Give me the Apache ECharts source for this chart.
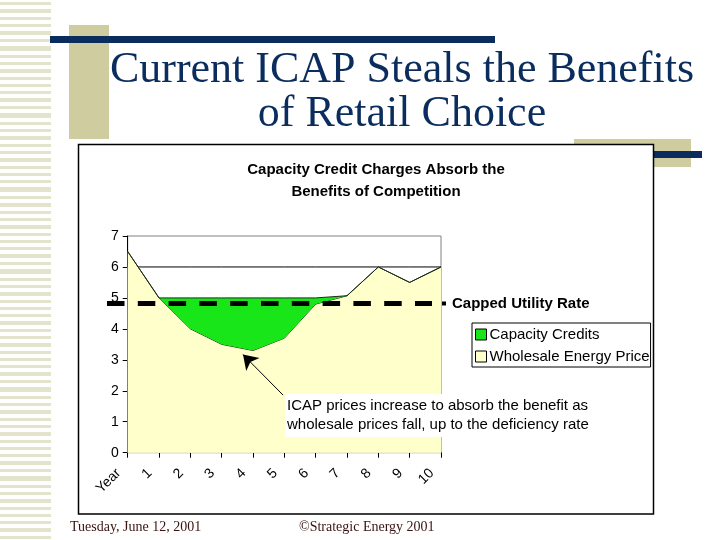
<!DOCTYPE html>
<html>
<head>
<meta charset="utf-8">
<script src="https://cdn.jsdelivr.net/npm/echarts@6/dist/echarts.min.js"></script>
<style>html,body{margin:0;padding:0;background:#fff;}#c{width:720px;height:540px;}</style>
</head>
<body>
<div id="c"></div>
<script>
// ---- data ----
var xLabels = ['Year','1','2','3','4','5','6','7','8','9','10'];
var wholesale = [6.5, 5.0, 4.0, 3.5, 3.3, 3.7, 4.8, 5.07, 6.0, 5.5, 6.0];
var capacity  = [0, 0, 1.0, 1.5, 1.7, 1.3, 0.2, 0, 0, 0, 0];
var deficiency = [6, 6, 6, 6, 6, 6, 6, 6, 6, 6, 6];
var cappedRate = 4.82;
var yTicks = [0, 7, 1];
// annotation arrow, in (year index, value) units
var arrowFrom = [4.96, 1.86];
var arrowTo = [3.68, 3.17];

var SANS = '"Liberation Sans", Arial, sans-serif';
var SERIF = '"Liberation Serif", "Times New Roman", serif';
var GREEN = '#19e619';
var YELLOW = '#ffffcc';
var TAN = '#cfcca0';
var NAVY = '#0a2d5e';

var graphics = [];
// left stripe column
var stripeRows = [3,4,3,3,4,3,5,3,3,4,3,3,3,4,3,5,3,3,4,3,3,4,3,3,3,5,3,4,3,3,4,3,3,3,4,3,5,3,3,4,3,3,3,4,3,3,4,3,3,3,4,3,5,3,3,4,3,3,4,3,3,3,4,3,5,3,3,4,3,3,3,4,3,3,4,3];
var yy = 2;
for (var i = 0; i < stripeRows.length && yy < 540; i++) {
  graphics.push({type:'rect', z:-5, shape:{x:0, y:yy, width:51, height:stripeRows[i]}, style:{fill:'#e4e3cc'}});
  yy += stripeRows[i] + 4;
}
// left tan bar and navy bar
graphics.push({type:'rect', z:-5, shape:{x:69, y:25, width:40, height:114}, style:{fill:TAN}});
graphics.push({type:'rect', z:-4, shape:{x:50, y:36, width:445, height:7}, style:{fill:NAVY}});
// right tan box and navy bar
graphics.push({type:'rect', z:-5, shape:{x:574, y:139, width:117, height:28}, style:{fill:TAN}});
graphics.push({type:'rect', z:-4, shape:{x:620, y:151, width:82, height:7}, style:{fill:NAVY}});
// chart frame
graphics.push({type:'rect', z:-3, shape:{x:78.5, y:144.5, width:575, height:369.5}, style:{fill:'#fff', stroke:'#000', lineWidth:1.5}});
// slide title
graphics.push({type:'text', z:-2, x:402, y:70, style:{text:'Current ICAP Steals the Benefits', font:'44px ' + SERIF, fill:NAVY, textAlign:'center', textVerticalAlign:'middle'}});
graphics.push({type:'text', z:-2, x:402, y:114, style:{text:'of Retail Choice', font:'44px ' + SERIF, fill:NAVY, textAlign:'center', textVerticalAlign:'middle'}});
// footer
graphics.push({type:'text', z:-2, x:70, y:527, style:{text:'Tuesday, June 12, 2001', font:'14px ' + SERIF, fill:'#3a1212', textAlign:'left', textVerticalAlign:'middle'}});
graphics.push({type:'text', z:-2, x:299, y:527, style:{text:'\u00A9Strategic Energy 2001', font:'14px ' + SERIF, fill:'#3a1212', textAlign:'left', textVerticalAlign:'middle'}});
// annotation
graphics.push({type:'text', z:50, x:285, y:394, style:{text:'ICAP prices increase to absorb the benefit as\nwholesale prices fall, up to the deficiency rate', font:'15px ' + SANS, fill:'#000', backgroundColor:'#fff', padding:[2,3,3,2], lineHeight:19, textAlign:'left', textVerticalAlign:'top'}});

var option = {
  animation: false,
  backgroundColor: '#fff',
  title: {
    text: 'Capacity Credit Charges Absorb the\nBenefits of Competition',
    left: 371, top: 154, textAlign: 'center',
    textStyle: {fontFamily: SANS, fontWeight: 'bold', fontSize: 15, color: '#000', lineHeight: 22}
  },
  graphic: graphics,
  legend: {
    orient: 'vertical', left: 472, top: 323,
    backgroundColor: '#fff', borderColor: '#000', borderWidth: 1,
    padding: [4, 1, 3, 3], itemGap: 7, itemWidth: 11, itemHeight: 11,
    icon: 'rect',
    textStyle: {fontFamily: SANS, fontSize: 15, color: '#000', padding: [0,0,0,-2]},
    data: [
      {name: 'Capacity Credits', itemStyle: {color: GREEN, borderColor: '#000', borderWidth: 1}},
      {name: 'Wholesale Energy Price', itemStyle: {color: YELLOW, borderColor: '#000', borderWidth: 1}}
    ],
    z: 20
  },
  grid: [
    {left: 127.7, right: 279, top: 236, bottom: 87.3, show: true, borderColor: '#808080', borderWidth: 1, backgroundColor: 'transparent'},
    {left: 107, right: 288, top: 236, bottom: 87.3, show: false},
    {left: 127.7, right: 279, top: 236, bottom: 87.3, show: false}
  ],
  xAxis: [
    {type: 'category', gridIndex: 0, data: xLabels, boundaryGap: false,
     axisLine: {show: true, lineStyle: {color: '#000', width: 1}},
     axisTick: {show: true, length: 5, interval: 0, lineStyle: {color: '#000'}},
     splitLine: {show: false},
     axisLabel: {rotate: 45, margin: 9, interval: 0, padding: [0, 13, 0, 0], fontFamily: SANS, fontSize: 14, color: '#000'}},
    {type: 'value', gridIndex: 1, min: 0, max: 1, show: false},
    {type: 'value', gridIndex: 2, min: 0, max: xLabels.length - 1, show: false}
  ],
  yAxis: [
    {type: 'value', gridIndex: 0, min: yTicks[0], max: yTicks[1], interval: yTicks[2],
     axisLine: {show: true, lineStyle: {color: '#000', width: 1}},
     axisTick: {show: true, length: 5, lineStyle: {color: '#000'}},
     splitLine: {show: false},
     axisLabel: {margin: 9, fontFamily: SANS, fontSize: 14, color: '#000'}},
    {type: 'value', gridIndex: 1, min: yTicks[0], max: yTicks[1], show: false},
    {type: 'value', gridIndex: 2, min: yTicks[0], max: yTicks[1], show: false}
  ],
  series: [
    {name: 'Deficiency Rate', type: 'line', xAxisIndex: 0, yAxisIndex: 0, data: deficiency,
     symbol: 'none', lineStyle: {color: '#000', width: 1}, areaStyle: {color: '#fff', opacity: 1}, z: 3},
    {name: 'Wholesale Energy Price', type: 'line', stack: 'p', xAxisIndex: 0, yAxisIndex: 0, data: wholesale,
     symbol: 'none', itemStyle: {color: YELLOW}, lineStyle: {color: '#1c3a1c', width: 1}, areaStyle: {color: YELLOW, opacity: 1}, z: 4},
    {name: 'Capacity Credits', type: 'line', stack: 'p', xAxisIndex: 0, yAxisIndex: 0, data: capacity,
     symbol: 'none', itemStyle: {color: GREEN}, lineStyle: {color: '#1c2a1c', width: 1}, areaStyle: {color: GREEN, opacity: 1}, z: 5},
    {name: 'Capped Utility Rate', type: 'line', xAxisIndex: 1, yAxisIndex: 1, data: [[0, cappedRate], [1, cappedRate]],
     symbol: 'none', lineStyle: {color: '#000', width: 5, type: [17.5, 13.3]}, z: 10,
     endLabel: {show: true, distance: 10,
       formatter: '{sq|}{t|Capped Utility Rate}',
       rich: {sq: {width: 4, height: 4, backgroundColor: '#000'},
              t: {fontFamily: SANS, fontWeight: 'bold', fontSize: 15, color: '#000', padding: [0,0,0,6]}}}},
    {name: 'annotation', type: 'line', xAxisIndex: 2, yAxisIndex: 2, data: [[arrowFrom[0], arrowFrom[1]]], symbol: 'none',
     lineStyle: {opacity: 0}, itemStyle: {color: '#000'}, z: 12,
     markLine: {silent: true, symbol: ['none', 'arrow'], symbolSize: 14,
       itemStyle: {color: '#000'},
       lineStyle: {color: '#000', width: 1, type: 'solid'}, label: {show: false},
       data: [[{coord: arrowFrom}, {coord: arrowTo}]]}}
  ]
};
var chart = echarts.init(document.getElementById('c'), null, {renderer: 'canvas'});
chart.setOption(option);
</script>
</body>
</html>
